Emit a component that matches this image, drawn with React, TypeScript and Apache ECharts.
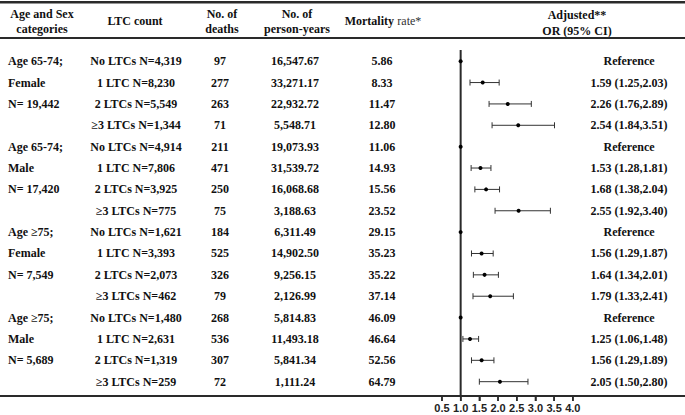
import React, { useEffect, useRef } from "react";
import * as echarts from "echarts";

const groupLabels = ["Age 65-74;", "Female", "N= 19,442", "", "Age 65-74;", "Male", "N= 17,420", "", "Age ≥75;", "Female", "N= 7,549", "", "Age ≥75;", "Male", "N= 5,689", ""];
const ltcCounts = ["No LTCs N=4,319", "1 LTC N=8,230", "2 LTCs N=5,549", "≥3 LTCs N=1,344", "No LTCs N=4,914", "1 LTC N=7,806", "2 LTCs N=3,925", "≥3 LTCs N=775", "No LTCs N=1,621", "1 LTC N=3,393", "2 LTCs N=2,073", "≥3 LTCs N=462", "No LTCs N=1,480", "1 LTC N=2,631", "2 LTCs N=1,319", "≥3 LTCs N=259"];
const deaths = [97, 277, 263, 71, 211, 471, 250, 75, 184, 525, 326, 79, 268, 536, 307, 72];
const personYears = ["16,547.67", "33,271.17", "22,932.72", "5,548.71", "19,073.93", "31,539.72", "16,068.68", "3,188.63", "6,311.49", "14,902.50", "9,256.15", "2,126.99", "5,814.83", "11,493.18", "5,841.34", "1,111.24"];
const mortality = ["5.86", "8.33", "11.47", "12.80", "11.06", "14.93", "15.56", "23.52", "29.15", "35.23", "35.22", "37.14", "46.09", "46.64", "52.56", "64.79"];
const orEst = [1, 1.59, 2.26, 2.54, 1, 1.53, 1.68, 2.55, 1, 1.56, 1.64, 1.79, 1, 1.25, 1.56, 2.05];
const orLo: (number | null)[] = [null, 1.25, 1.76, 1.84, null, 1.28, 1.38, 1.92, null, 1.29, 1.34, 1.33, null, 1.06, 1.29, 1.5];
const orHi: (number | null)[] = [null, 2.03, 2.89, 3.51, null, 1.81, 2.04, 3.4, null, 1.87, 2.01, 2.41, null, 1.48, 1.89, 2.8];
const xTicks = [0.5, 1.0, 1.5, 2.0, 2.5, 3.0, 3.5, 4.0];

const W = 685;
const H = 415;
const GRID_BOTTOM = 19;
const SERIF = "'Liberation Serif', 'Times New Roman', serif";
const SANS = "'Liberation Sans', Arial, sans-serif";
const TXT = "#111";
const RULE = "#2a2a2a";

const rows = ltcCounts.map((_, i) => i);
const orText = orEst.map((e, i) =>
  orLo[i] == null ? "Reference" : `${e.toFixed(2)} (${(orLo[i] as number).toFixed(2)},${(orHi[i] as number).toFixed(2)})`
);

const X_MIN = -11.32;
const X_MAX = 7.0;
const Y_MIN = -0.524;
const Y_MAX = 15.67;

function labelAxis(values: (string | number)[], cx: number, align: string) {
  return {
    type: "value",
    inverse: true,
    min: Y_MIN,
    max: Y_MAX,
    position: "left",
    offset: -cx,
    axisLine: { show: false },
    axisTick: { show: false },
    splitLine: { show: false },
    axisLabel: {
      show: true,
      customValues: rows,
      formatter: (v: number) => String(values[Math.round(v)] ?? ""),
      align,
      verticalAlign: "middle",
      margin: 0,
      fontFamily: SERIF,
      fontWeight: "bold",
      fontSize: 12,
      color: TXT,
    },
  };
}

function headerText(text: string, x: number, y: number, align = "center") {
  return {
    type: "text",
    style: {
      text,
      x,
      y,
      textAlign: align,
      textVerticalAlign: "middle",
      fontFamily: SERIF,
      fontWeight: "bold",
      fontSize: 12,
      fill: TXT,
    },
  };
}

// linear map of the x value scale across the full-width grid (left 0, right 0)
const xScale = (v: number) => ((v - X_MIN) / (X_MAX - X_MIN)) * W;

export default function App() {
  const ref = useRef<HTMLDivElement>(null);
  useEffect(() => {
    if (!ref.current) return;
    const chart = echarts.init(ref.current, null, { renderer: "svg" });
    const ciData = orEst.map((e, i) => [e, orLo[i] == null ? "-" : orLo[i], orHi[i] == null ? "-" : orHi[i], i]);
    const yB = H - GRID_BOTTOM;
    const tickEls = xTicks.map((v) => ({
      type: "rect",
      z: 100,
      shape: { x: xScale(v) - 0.75, y: yB, width: 1.5, height: 5 },
      style: { fill: RULE },
    }));
    const option: any = {
      animation: false,
      grid: { left: 0, right: 0, top: 50, bottom: GRID_BOTTOM },
      xAxis: {
        type: "value",
        min: X_MIN,
        max: X_MAX,
        splitLine: { show: false },
        axisLine: { show: true, onZero: false, lineStyle: { color: RULE, width: 2 } },
        axisTick: { show: true, customValues: xTicks, length: 5, lineStyle: { color: RULE, width: 1.5 } },
        axisLabel: {
          show: true,
          customValues: xTicks,
          formatter: (v: number) => v.toFixed(1),
          fontFamily: SANS,
          fontWeight: "bold",
          fontSize: 11,
          color: "#222",
          margin: 6,
        },
      },
      yAxis: [
        {
          type: "value",
          inverse: true,
          min: Y_MIN,
          max: Y_MAX,
          show: false,
        },
        labelAxis(groupLabels, 8, "left"),
        labelAxis(ltcCounts, 136, "center"),
        labelAxis(deaths, 220, "center"),
        labelAxis(personYears, 295, "center"),
        labelAxis(mortality, 382, "center"),
        labelAxis(orText, 629, "center"),
      ],
      series: [
        {
          // reference line at OR = 1
          type: "line",
          yAxisIndex: 0,
          data: [[1, Y_MIN], [1, Y_MAX]],
          symbol: "none",
          silent: true,
          clip: false,
          lineStyle: { color: RULE, width: 2 },
          z: 1,
        },
        {
          type: "custom",
          yAxisIndex: 0,
          data: ciData,
          dimensions: ["est", "lo", "hi", "row"],
          encode: { x: [0, 1, 2], y: 3 },
          z: 3,
          renderItem: (params: any, api: any) => {
            const est = api.value(0);
            const lo = api.value(1);
            const hi = api.value(2);
            const row = api.value(3);
            const p = api.coord([est, row]);
            const children: any[] = [];
            const lineStyle = { stroke: "#333", lineWidth: 1 };
            if (Number.isFinite(lo) && Number.isFinite(hi)) {
              const a = api.coord([lo, row]);
              const b = api.coord([hi, row]);
              children.push({ type: "line", shape: { x1: a[0], y1: a[1], x2: b[0], y2: b[1] }, style: lineStyle });
              children.push({ type: "line", shape: { x1: a[0], y1: a[1] - 3, x2: a[0], y2: a[1] + 3 }, style: lineStyle });
              children.push({ type: "line", shape: { x1: b[0], y1: b[1] - 3, x2: b[0], y2: b[1] + 3 }, style: lineStyle });
            }
            children.push({ type: "circle", shape: { cx: p[0], cy: p[1], r: 2 }, style: { fill: "#000" } });
            return { type: "group", children };
          },
        },
      ],
      graphic: [
        { type: "rect", z: 100, shape: { x: 0, y: 1, width: W, height: 2.5 }, style: { fill: RULE } },
        { type: "rect", z: 100, shape: { x: 0, y: 37, width: W, height: 2 }, style: { fill: RULE } },
        { type: "rect", z: 100, shape: { x: 0, y: yB - 1, width: W, height: 2 }, style: { fill: RULE } },
        ...tickEls,
        headerText("Age and Sex", 42, 14),
        headerText("categories", 42, 29),
        headerText("LTC count", 135, 21),
        headerText("No. of", 222, 14),
        headerText("deaths", 222, 29),
        headerText("No. of", 297, 14),
        headerText("person-years", 297, 29),
        {
          type: "text",
          style: {
            text: "{b|Mortality} {n|rate*}",
            x: 383,
            y: 21,
            textAlign: "center",
            textVerticalAlign: "middle",
            rich: {
              b: { fontFamily: SERIF, fontWeight: "bold", fontSize: 12, fill: TXT },
              n: { fontFamily: SERIF, fontWeight: "normal", fontSize: 12, fill: "#333" },
            },
          },
        },
        headerText("Adjusted**", 577, 15),
        headerText("OR (95% CI)", 577, 31),
      ],
    };
    chart.setOption(option);
    return () => chart.dispose();
  }, []);
  return (
    <div
      ref={ref}
      style={{ position: "fixed", left: 0, top: 0, width: W, height: H, background: "#fff" }}
    />
  );
}
